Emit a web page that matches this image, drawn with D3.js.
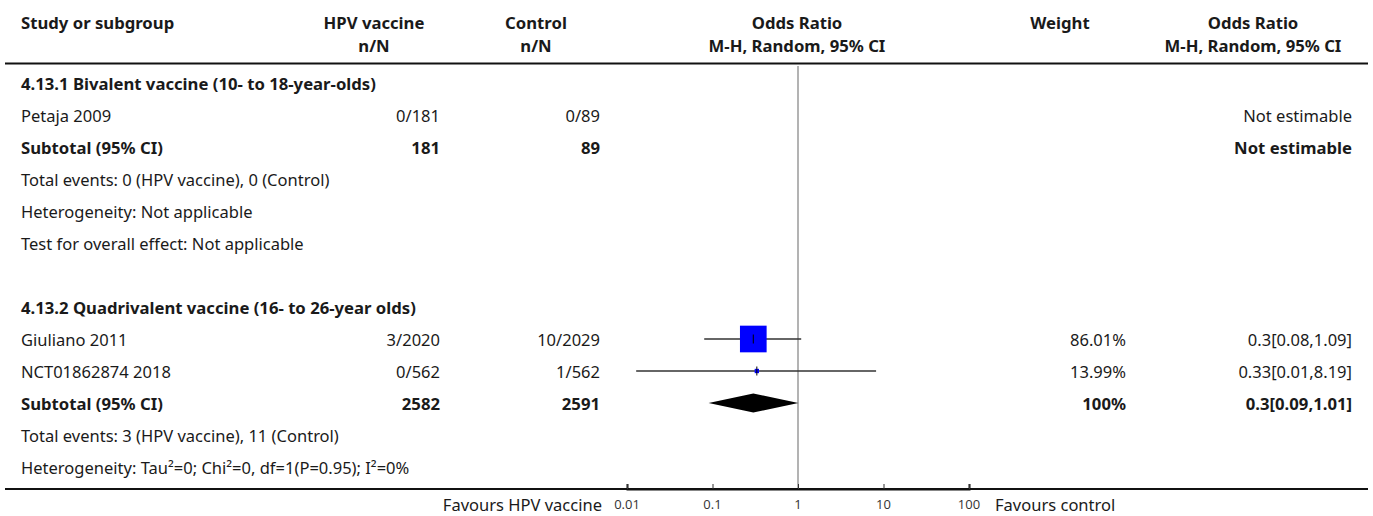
<!DOCTYPE html>
<html>
<head>
<meta charset="utf-8">
<script src="https://cdn.jsdelivr.net/npm/d3@7"></script>
<style>
  html, body { margin: 0; padding: 0; background: #fff; }
  svg { display: block; }
  text { font-family: "Noto Sans", sans-serif; fill: #1a1a1a; }
</style>
</head>
<body>
<svg id="chart" width="1373" height="516"></svg>
<script>
// ---------------- data ----------------
const headerRow1 = ["Study or subgroup", "HPV vaccine", "Control", "Odds Ratio", "Weight", "Odds Ratio"];
const headerRow2 = ["", "n/N", "n/N", "M-H, Random, 95% CI", "", "M-H, Random, 95% CI"];

const rowLabels = [
  "4.13.1 Bivalent vaccine (10- to 18-year-olds)",
  "Petaja 2009",
  "Subtotal (95% CI)",
  "Total events: 0 (HPV vaccine), 0 (Control)",
  "Heterogeneity: Not applicable",
  "Test for overall effect: Not applicable",
  "",
  "4.13.2 Quadrivalent vaccine (16- to 26-year olds)",
  "Giuliano 2011",
  "NCT01862874 2018",
  "Subtotal (95% CI)",
  "Total events: 3 (HPV vaccine), 11 (Control)",
  "Heterogeneity: Tau\u00B2=0; Chi\u00B2=0, df=1(P=0.95); I\u00B2=0%"
];
const rowBold = [true, false, true, false, false, false, false, true, false, false, true, false, false];
const hpvText = ["", "0/181", "181", "", "", "", "", "", "3/2020", "0/562", "2582", "", ""];
const controlText = ["", "0/89", "89", "", "", "", "", "", "10/2029", "1/562", "2591", "", ""];
const weightText = ["", "", "", "", "", "", "", "", "86.01%", "13.99%", "100%", "", ""];
const orText = ["", "Not estimable", "Not estimable", "", "", "", "", "", "0.3[0.08,1.09]", "0.33[0.01,8.19]", "0.3[0.09,1.01]", "", ""];

// effect estimates (row index -> values)
const markRows = [8, 9, 10];
const markType = ["study", "study", "diamond"];
const orEst = [0.3, 0.33, 0.3];
const ciLow = [0.08, 0.0128, 0.09];
const ciHigh = [1.09, 8.19, 1.01];
const weights = [86.01, 13.99, 100];

const axisTicks = [0.01, 0.1, 1, 10, 100];
const axisTickLabels = ["0.01", "0.1", "1", "10", "100"];
const favoursLeft = "Favours HPV vaccine";
const favoursRight = "Favours control";

// ---------------- layout ----------------
const svg = d3.select("#chart");

// calibrate font sizes to the reference text widths
function measure(txt, size, weight) {
  const t = svg.append("text").attr("font-size", size).attr("font-weight", weight).text(txt);
  const w = t.node().getComputedTextLength();
  t.remove();
  return w;
}
const FS = 16 * 283 / measure("Test for overall effect: Not applicable", 16, "normal");
const FSB = 16 * 355 / measure("4.13.1 Bivalent vaccine (10- to 18-year-olds)", 16, "bold");

const x = d3.scaleLog().domain([0.01, 100]).range([627, 969]);
const y = d3.scaleLinear().domain([0, 12]).range([84, 468]);
const sq = d3.scaleLinear().domain([0, 100]).range([0, 31]);

const col = {
  label: 21,
  hpvRight: 440, hpvCenter: 374,
  ctlRight: 600, ctlCenter: 536,
  orCenter: 797,
  wRight: 1126, wCenter: 1060,
  or2Right: 1352, or2Center: 1253
};

// header
const hdrX = [col.label, col.hpvCenter, col.ctlCenter, col.orCenter, col.wCenter, col.or2Center];
const hdrAnchor = ["start", "middle", "middle", "middle", "middle", "middle"];
headerRow1.forEach((t, i) => {
  svg.append("text").attr("x", hdrX[i]).attr("y", 23).attr("dy", "0.35em")
    .attr("text-anchor", hdrAnchor[i]).attr("font-weight", "bold").attr("font-size", FSB).text(t);
});
headerRow2.forEach((t, i) => {
  if (!t) return;
  svg.append("text").attr("x", hdrX[i]).attr("y", 46).attr("dy", "0.35em")
    .attr("text-anchor", hdrAnchor[i]).attr("font-weight", "bold").attr("font-size", FSB).text(t);
});
svg.append("line").attr("x1", 5).attr("x2", 1368).attr("y1", 63.5).attr("y2", 63.5)
  .attr("stroke", "#111").attr("stroke-width", 2);

// null line
svg.append("line").attr("x1", x(1)).attr("x2", x(1)).attr("y1", 66).attr("y2", 489)
  .attr("stroke", "#9a9a9a").attr("stroke-width", 1.5);

// rows
const rows = svg.append("g");
rowLabels.forEach((t, i) => {
  const fw = rowBold[i] ? "bold" : "normal";
  const fs = rowBold[i] ? FSB : FS;
  const yy = y(i);
  const add = (txt, xx, anchor) => {
    if (!txt) return;
    rows.append("text").attr("x", xx).attr("y", yy).attr("dy", "0.35em")
      .attr("text-anchor", anchor).attr("font-weight", fw).attr("font-size", fs).text(txt);
  };
  add(t, col.label, "start");
  add(hpvText[i], col.hpvRight, "end");
  add(controlText[i], col.ctlRight, "end");
  add(weightText[i], col.wRight, "end");
  add(orText[i], col.or2Right, "end");
});

// marks
markRows.forEach((r, k) => {
  const yy = y(r) - 1;
  if (markType[k] === "study") {
    svg.append("line").attr("x1", x(ciLow[k])).attr("x2", x(ciHigh[k]))
      .attr("y1", yy).attr("y2", yy).attr("stroke", "#333").attr("stroke-width", 1.3);
    const s = Math.max(sq(weights[k]), 4);
    svg.append("rect").attr("x", x(orEst[k]) - s / 2).attr("y", yy - s / 2)
      .attr("width", s).attr("height", s).attr("fill", "#0000ff");
    svg.append("line").attr("x1", x(orEst[k])).attr("x2", x(orEst[k]))
      .attr("y1", yy - 4.5).attr("y2", yy + 4.5).attr("stroke", "#000").attr("stroke-width", 1);
  } else {
    const h = 9.5;
    const pts = [[x(ciLow[k]), yy], [x(orEst[k]), yy - h], [x(ciHigh[k]), yy], [x(orEst[k]), yy + h]];
    svg.append("polygon").attr("points", pts.map(p => p.join(",")).join(" ")).attr("fill", "#000");
  }
});

// axis
svg.append("line").attr("x1", 5).attr("x2", 1368).attr("y1", 489).attr("y2", 489)
  .attr("stroke", "#111").attr("stroke-width", 2);
const axisG = svg.append("g").attr("transform", "translate(0,489)");
const axis = d3.axisTop(x).tickValues(axisTicks).tickSize(5)
  .tickFormat((d, i) => axisTickLabels[i]);
axisG.call(axis);
axisG.select(".domain").attr("stroke", "#111").attr("stroke-width", 2);
axisG.selectAll(".tick line").attr("stroke", "#333");
axisG.selectAll(".tick text").remove();
axisTicks.forEach((v, i) => {
  svg.append("text").attr("x", x(v)).attr("y", 504).attr("dy", "0.35em")
    .attr("text-anchor", "middle").attr("font-size", 13)
    .style("font-family", "'Open Sans', sans-serif").style("fill", "#333")
    .text(axisTickLabels[i]);
});
svg.append("text").attr("x", 602).attr("y", 505).attr("dy", "0.35em")
  .attr("text-anchor", "end").attr("font-size", FS).text(favoursLeft);
svg.append("text").attr("x", 995).attr("y", 505).attr("dy", "0.35em")
  .attr("text-anchor", "start").attr("font-size", FS).text(favoursRight);
</script>
</body>
</html>
